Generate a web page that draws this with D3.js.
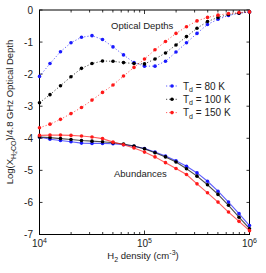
<!DOCTYPE html>
<html lang="en">
<head>
<meta charset="utf-8">
<title>H2CO optical depths and abundances</title>
<script src="https://d3js.org/d3.v7.min.js"></script>
<style>
body { margin: 0; background: #fff; font-family: "Liberation Sans", Arial, sans-serif; }
svg text { fill: #222; }
</style>
</head>
<body>
<div id="vis"></div>
<script>

/* Data */
/* ==== */

// log10 density steps 4.0 .. 6.0 by 0.1
var logDensity = [4.0, 4.1, 4.2, 4.3, 4.4, 4.5, 4.6, 4.7, 4.8, 4.9, 5.0,
                  5.1, 5.2, 5.3, 5.4, 5.5, 5.6, 5.7, 5.8, 5.9, 6.0];

var tauT80  = [-2.07, -1.67, -1.30, -1.02, -0.85, -0.80, -0.92, -1.15, -1.40, -1.64, -1.75,
               -1.75, -1.60, -1.31, -1.02, -0.73, -0.45, -0.29, -0.17, -0.10, -0.06];
var tauT100 = [-2.89, -2.64, -2.36, -2.08, -1.82, -1.67, -1.59, -1.60, -1.64, -1.67, -1.68,
               -1.53, -1.34, -1.09, -0.83, -0.57, -0.36, -0.23, -0.14, -0.10, -0.06];
var tauT150 = [-3.67, -3.56, -3.41, -3.23, -3.04, -2.81, -2.57, -2.34, -2.06, -1.79, -1.53,
               -1.24, -0.98, -0.73, -0.52, -0.34, -0.23, -0.16, -0.11, -0.08, -0.06];

var abT80  = [-3.96, -4.03, -4.07, -4.11, -4.15, -4.16, -4.16, -4.17, -4.20, -4.25, -4.32,
              -4.43, -4.55, -4.70, -4.87, -5.08, -5.34, -5.65, -5.99, -6.35, -6.72];
var abT100 = [-3.96, -3.98, -4.01, -4.04, -4.07, -4.09, -4.11, -4.14, -4.18, -4.24, -4.33,
              -4.45, -4.58, -4.74, -4.95, -5.18, -5.45, -5.75, -6.09, -6.46, -6.82];
var abT150 = [-3.91, -3.90, -3.90, -3.91, -3.93, -3.96, -4.01, -4.12, -4.20, -4.30, -4.43,
              -4.58, -4.76, -4.94, -5.13, -5.42, -5.70, -5.99, -6.30, -6.59, -6.88];

var seriesNames = ['80', '100', '150'];
var seriesColors = ['#1a1aff', '#000000', '#ff1a1a'];
var yTicks = [0, -1, -2, -3, -4, -5, -6, -7];
var xMajor = [4, 5, 6];


/* SVG and scales */
/* ============== */

var W = 266, H = 273;
var plot = { left: 39.5, right: 249.5, top: 10, bottom: 234.5 };

var svg = d3.select('#vis').append('svg')
	.attr('width', W)
	.attr('height', H);

var x = d3.scaleLog().domain([1e4, 1e6]).range([plot.left, plot.right]);
var y = d3.scaleLinear().domain([-7, 0]).range([plot.bottom, plot.top]);


/* Frame and ticks */
/* =============== */

var frame = svg.append('g');

frame.append('rect')
	.attr('x', plot.left).attr('y', plot.top)
	.attr('width', plot.right - plot.left)
	.attr('height', plot.bottom - plot.top)
	.attr('fill', 'none')
	.attr('stroke', '#000')
	.attr('stroke-width', 1);

// minor + major log ticks on bottom and top
var xTickVals = [];
for (var d = 4; d < 6; d++) {
	for (var m = 1; m < 10; m++) xTickVals.push(m * Math.pow(10, d));
}
xTickVals.push(1e6);

xTickVals.forEach(function(v) {
	var major = Math.abs(Math.log10(v) % 1) < 1e-9;
	var len = major ? 4 : 2.5;
	frame.append('line')
		.attr('x1', x(v)).attr('x2', x(v))
		.attr('y1', plot.bottom).attr('y2', plot.bottom - len)
		.attr('stroke', '#000').attr('stroke-width', 0.8);
	frame.append('line')
		.attr('x1', x(v)).attr('x2', x(v))
		.attr('y1', plot.top).attr('y2', plot.top + len)
		.attr('stroke', '#000').attr('stroke-width', 0.8);
});

yTicks.forEach(function(v) {
	frame.append('line')
		.attr('x1', plot.left).attr('x2', plot.left + 3)
		.attr('y1', y(v)).attr('y2', y(v))
		.attr('stroke', '#000').attr('stroke-width', 0.8);
	frame.append('line')
		.attr('x1', plot.right).attr('x2', plot.right - 3)
		.attr('y1', y(v)).attr('y2', y(v))
		.attr('stroke', '#000').attr('stroke-width', 0.8);
	frame.append('text')
		.attr('x', 33).attr('y', y(v) + 3.5)
		.attr('text-anchor', 'end')
		.attr('font-size', 10)
		.text(v === 0 ? '0' : '-' + Math.abs(v));
});

xMajor.forEach(function(p) {
	var t = frame.append('text')
		.attr('x', x(Math.pow(10, p)))
		.attr('y', 247)
		.attr('text-anchor', 'middle')
		.attr('font-size', 10);
	t.append('tspan').text('10');
	t.append('tspan').attr('font-size', 7).attr('dy', -4).text(p);
});

// x label
var xl = svg.append('text')
	.attr('x', 143).attr('y', 259)
	.attr('text-anchor', 'middle')
	.attr('font-size', 9.5);
xl.append('tspan').text('H');
xl.append('tspan').attr('font-size', 7).attr('dy', 2.5).text('2');
xl.append('tspan').attr('dy', -2.5).text(' density (cm');
xl.append('tspan').attr('font-size', 7).attr('dy', -4).text('-3');
xl.append('tspan').attr('dy', 4).text(')');

// y label
var yl = svg.append('text')
	.attr('transform', 'translate(13,112) rotate(-90)')
	.attr('text-anchor', 'middle')
	.attr('font-size', 9.5);
yl.append('tspan').text('Log(X');
yl.append('tspan').attr('font-size', 7).attr('dy', 2.5).text('H');
yl.append('tspan').attr('font-size', 5).attr('dy', 1.5).text('2');
yl.append('tspan').attr('font-size', 7).attr('dy', -1.5).text('CO');
yl.append('tspan').attr('dy', -2.5).text(')/4.8 GHz Optical Depth');


/* Series */
/* ====== */

var tauSeries = [tauT80, tauT100, tauT150];
var abSeries = [abT80, abT100, abT150];

function toPoints(vals) {
	return vals.map(function(v, i) { return [Math.pow(10, logDensity[i]), v]; });
}

var line = d3.line()
	.x(function(d) { return x(d[0]); })
	.y(function(d) { return y(d[1]); });

function drawSeries(vals, color, dashed) {
	var pts = toPoints(vals);
	var g = svg.append('g');
	g.append('path')
		.datum(pts)
		.attr('d', line)
		.attr('fill', 'none')
		.attr('stroke', color)
		.attr('stroke-opacity', dashed ? 0.7 : 0.7)
		.attr('stroke-width', dashed ? 1 : 1.1)
		.attr('stroke-dasharray', dashed ? '1.2,2' : null);
	g.selectAll('circle')
		.data(pts)
		.enter().append('circle')
		.attr('cx', function(d) { return x(d[0]); })
		.attr('cy', function(d) { return y(d[1]); })
		.attr('r', 1.8)
		.attr('fill', color);
}

abSeries.forEach(function(s, i) { drawSeries(s, seriesColors[i], false); });
tauSeries.forEach(function(s, i) { drawSeries(s, seriesColors[i], true); });


/* Annotations and legend */
/* ====================== */

svg.append('text')
	.attr('x', 111).attr('y', 28.5)
	.attr('font-size', 9.5)
	.text('Optical Depths');

svg.append('text')
	.attr('x', 114).attr('y', 176.5)
	.attr('font-size', 9.5)
	.text('Abundances');

var legendY = [86, 99.3, 112.6];
seriesNames.forEach(function(n, i) {
	var g = svg.append('g');
	g.append('line')
		.attr('x1', 166).attr('x2', 178)
		.attr('y1', legendY[i]).attr('y2', legendY[i])
		.attr('stroke', seriesColors[i])
		.attr('stroke-opacity', 0.7)
		.attr('stroke-dasharray', '1.2,2');
	g.append('circle')
		.attr('cx', 172).attr('cy', legendY[i])
		.attr('r', 1.8)
		.attr('fill', seriesColors[i]);
	var t = g.append('text')
		.attr('x', 183).attr('y', legendY[i] + 3.5)
		.attr('font-size', 10);
	t.append('tspan').text('T');
	t.append('tspan').attr('font-size', 7).attr('dy', 2.5).text('d');
	t.append('tspan').attr('dy', -2.5).text(' = ' + n + ' K');
});

</script>
</body>
</html>
